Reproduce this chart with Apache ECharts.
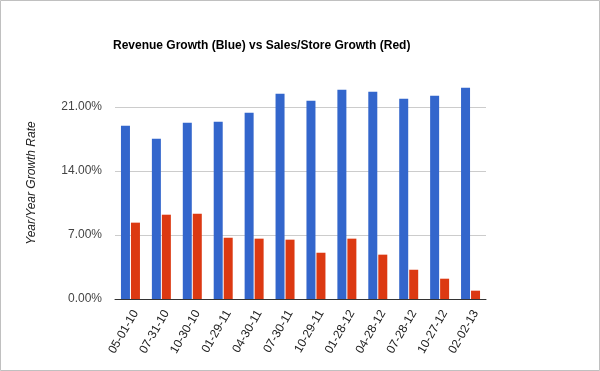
<!DOCTYPE html>
<html><head><meta charset="utf-8">
<script src="https://cdn.jsdelivr.net/npm/echarts@6/dist/echarts.min.js"></script>
<style>html,body{margin:0;padding:0;background:#fff}#c{width:600px;height:371px}</style>
</head><body><div id="c"></div>
<script>
var categories = ['05-01-10','07-31-10','10-30-10','01-29-11','04-30-11','07-30-11','10-29-11','01-28-12','04-28-12','07-28-12','10-27-12','02-02-13'];
var revenueGrowth = [18.95, 17.53, 19.28, 19.39, 20.38, 22.45, 21.69, 22.89, 22.67, 21.91, 22.24, 23.11];
var salesStoreGrowth = [8.35, 9.22, 9.33, 6.70, 6.60, 6.49, 5.06, 6.60, 4.85, 3.20, 2.22, 0.91];
var yTicks = [0, 7, 14, 21];

var FONT = 'Arial, "Liberation Sans", sans-serif';
var chart = echarts.init(document.getElementById('c'), null, {renderer: 'canvas'});
chart.setOption({
  animation: false,
  backgroundColor: '#fff',
  title: {
    text: 'Revenue Growth (Blue) vs Sales/Store Growth (Red)',
    left: 108, top: 35,
    textStyle: {fontFamily: FONT, fontSize: 12, fontWeight: 'bold', color: '#000'}
  },
  graphic: [{
    type: 'rect', silent: true,
    shape: {x: 0.5, y: 0.5, width: 599, height: 370},
    style: {fill: 'none', stroke: '#c0c0c0', lineWidth: 1}
  }],
  grid: {left: 115, right: 114, top: 107, bottom: 72, containLabel: false},
  xAxis: {
    type: 'category',
    data: categories,
    axisLine: {lineStyle: {color: '#333', width: 1}},
    axisTick: {show: false},
    axisLabel: {rotate: 60, margin: 9, interval: 0, verticalAlign: 'top', fontFamily: FONT, fontSize: 12, color: '#222'}
  },
  yAxis: {
    type: 'value',
    min: yTicks[0], max: yTicks[yTicks.length - 1], interval: 7,
    name: 'Year/Year Growth Rate',
    nameLocation: 'middle',
    nameGap: 77,
    nameTextStyle: {fontFamily: FONT, fontSize: 12, fontStyle: 'italic', color: '#222', padding: [0, 0, 0, 40]},
    axisLine: {show: false},
    axisTick: {show: false},
    axisLabel: {margin: 13, fontFamily: FONT, fontSize: 12, color: '#444', formatter: function (v) { return v.toFixed(2) + '%'; }},
    splitLine: {lineStyle: {color: '#cccccc', width: 1}}
  },
  series: [
    {name: 'Revenue Growth', type: 'bar', data: revenueGrowth, clip: false, barWidth: 9, barGap: '11%', barCategoryGap: '38%', itemStyle: {color: '#3366cc'}},
    {name: 'Sales/Store Growth', type: 'bar', data: salesStoreGrowth, clip: false, barWidth: 9, barGap: '11%', itemStyle: {color: '#dc3912'}}
  ]
});
</script></body></html>
